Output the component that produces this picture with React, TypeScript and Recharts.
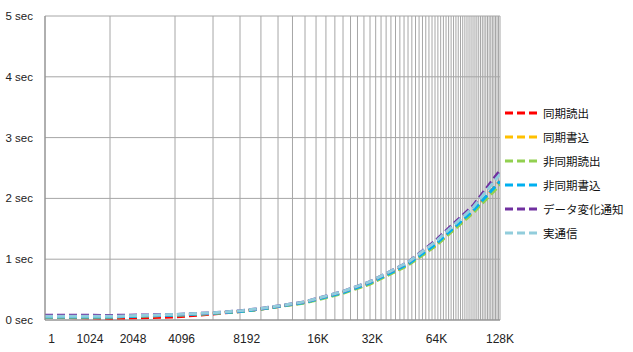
import React from "react";
import { LineChart, Line, XAxis, YAxis, CartesianGrid } from "recharts";

// x values (bytes) of the measured points
const sizes = [1024, 2048, 4096, 6144, 8192, 10240, 12288, 16384, 24576, 32768, 49152, 65536, 98304, 131072];

// seconds
const syncRead = [0.05, 0.025, 0.05, 0.1, 0.14, 0.18, 0.22, 0.29, 0.45, 0.6, 0.91, 1.22, 1.78, 2.28];
const syncWrite = [0.05, 0.05, 0.08, 0.11, 0.14, 0.18, 0.22, 0.29, 0.45, 0.6, 0.91, 1.22, 1.78, 2.28];
const asyncRead = [0.05, 0.05, 0.08, 0.11, 0.14, 0.18, 0.22, 0.28, 0.44, 0.59, 0.9, 1.21, 1.76, 2.22];
const asyncWrite = [0.05, 0.05, 0.08, 0.11, 0.14, 0.18, 0.22, 0.29, 0.45, 0.61, 0.92, 1.24, 1.8, 2.28];
const dataChange = [0.08, 0.075, 0.09, 0.12, 0.15, 0.19, 0.23, 0.3, 0.47, 0.63, 0.95, 1.3, 1.88, 2.46];
const realComm = [0.06, 0.06, 0.09, 0.12, 0.15, 0.19, 0.23, 0.3, 0.47, 0.63, 0.95, 1.28, 1.85, 2.4];

const seriesNames = ["同期読出", "同期書込", "非同期読出", "非同期書込", "データ変化通知", "実通信"];
const seriesColors = ["#ff0000", "#ffc000", "#92d050", "#00b0f0", "#7030a0", "#92cddc"];
const seriesValues = [syncRead, syncWrite, asyncRead, asyncWrite, dataChange, realComm];

// x-axis labels and the x values where they sit
const xLabels = ["1", "1024", "2048", "4096", "8192", "16K", "32K", "64K", "128K"];
const xLabelAt = [1100, 1654, 2618, 4399, 8801, 18822, 33600, 66600, 131072];

// vertical gridlines: 1024 and every multiple of 2048 up to 128K
const xGrid = [1024, ...Array.from({ length: 64 }, (_, i) => (i + 1) * 2048)];

const yTicks = [0, 1, 2, 3, 4, 5];

const data = sizes.map((s, i) => {
  const row: Record<string, number> = { size: s };
  seriesNames.forEach((n, k) => {
    row[n] = seriesValues[k][i];
  });
  return row;
});

const LegendBox = () => (
  <div
    style={{
      position: "absolute",
      left: 503,
      top: 101,
      fontFamily: "'Noto Sans CJK JP', sans-serif",
      fontSize: 11.5,
      color: "#111",
    }}
  >
    {seriesNames.map((n, k) => (
      <div key={n} style={{ display: "flex", alignItems: "center", height: 24 }}>
        <svg width={40} height={6} style={{ display: "block" }}>
          <line x1={2} y1={3} x2={34} y2={3} stroke={seriesColors[k]} strokeWidth={3} strokeDasharray="8 4" />
        </svg>
        <span style={{ lineHeight: "24px", whiteSpace: "nowrap" }}>{n}</span>
      </div>
    ))}
  </div>
);

export default function App() {
  return (
    <div style={{ position: "absolute", left: 0, top: 0, width: 633, height: 352, background: "#fff" }}>
      <LineChart width={633} height={352} data={data} margin={{ top: 16, right: 133, bottom: 0, left: 0 }}>
        <CartesianGrid stroke="#a6a6a6" strokeWidth={1} verticalValues={xGrid} horizontalValues={yTicks} />
        <XAxis
          dataKey="size"
          type="number"
          scale="log"
          domain={[1024, 131072]}
          allowDataOverflow
          ticks={xLabelAt}
          interval={0}
          tickFormatter={(_v: number, i: number) => xLabels[i]}
          tickLine={false}
          tickSize={0}
          tickMargin={14}
          height={32}
          axisLine={{ stroke: "#8c8c8c" }}
          tick={{ fontSize: 12, fill: "#222", fontFamily: "'Liberation Sans', Arial, sans-serif" }}
        />
        <YAxis
          type="number"
          domain={[0, 5]}
          ticks={yTicks}
          interval={0}
          width={45}
          tickFormatter={(v: number) => `${v} sec`}
          tickLine={false}
          tickSize={0}
          tickMargin={12}
          axisLine={{ stroke: "#8c8c8c" }}
          tick={{ fontSize: 11.5, fill: "#222", fontFamily: "'Liberation Sans', Arial, sans-serif" }}
        />
        {seriesNames.map((n, k) => (
          <Line
            key={n}
            dataKey={n}
            type="linear"
            stroke={seriesColors[k]}
            strokeWidth={3}
            strokeDasharray="8 4"
            dot={false}
            activeDot={false}
            isAnimationActive={false}
          />
        ))}
      </LineChart>
      <LegendBox />
    </div>
  );
}
